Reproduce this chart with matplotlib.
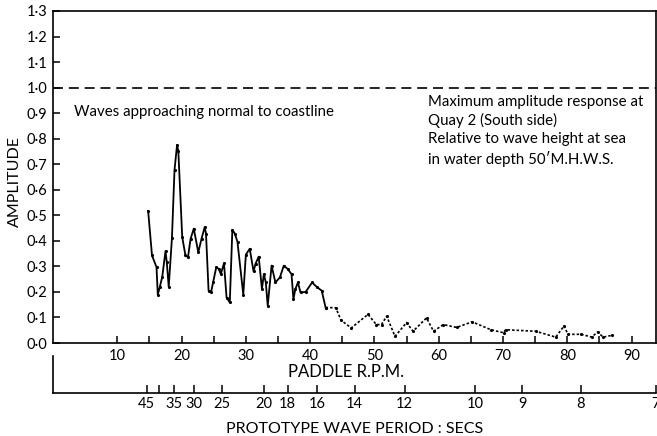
import numpy as np
import matplotlib
matplotlib.use("Agg")
import matplotlib.pyplot as plt

plt.rcParams["font.family"] = ["Lato", "DejaVu Sans"]

rpm = [14.8, 15.4, 16.1, 16.3, 16.6, 17.0, 17.5, 17.7, 18.0, 18.5, 18.9, 19.3, 19.5,
       20.1, 20.6, 21.0, 21.4, 21.9, 22.6, 23.1, 23.6, 23.8, 24.2, 24.6, 24.9, 25.4,
       25.8, 26.1, 26.6, 27.0, 27.5, 27.9, 28.3, 28.7, 29.6, 30.0, 30.6, 31.2, 31.5,
       32.0, 32.5, 32.8, 33.1, 33.4, 34.0, 34.6, 35.3, 35.9, 36.5, 37.1, 37.4, 37.7,
       38.1, 38.5, 39.3, 40.3, 41.1, 41.8, 42.4]
amp = [0.517, 0.343, 0.297, 0.189, 0.218, 0.26, 0.36, 0.316, 0.22, 0.41, 0.677, 0.776, 0.75,
       0.415, 0.343, 0.336, 0.408, 0.448, 0.355, 0.408, 0.454, 0.428, 0.205, 0.2, 0.237, 0.297,
       0.29, 0.27, 0.312, 0.178, 0.159, 0.443, 0.428, 0.395, 0.189, 0.346, 0.369, 0.28, 0.31,
       0.338, 0.211, 0.27, 0.237, 0.146, 0.303, 0.237, 0.257, 0.303, 0.29, 0.27, 0.172, 0.211,
       0.237, 0.198, 0.2, 0.237, 0.218, 0.205, 0.139]

rpm_tail = [42.4, 44.0, 44.8, 46.4, 49.0, 50.3, 51.1, 51.9, 53.2, 55.0, 56.0, 58.1, 59.2,
            60.7, 62.8, 65.2, 68.1, 70.1, 70.4, 75.1, 78.2, 79.5, 80.1, 82.2, 83.8, 84.7,
            85.6, 86.9]
amp_tail = [0.139, 0.138, 0.089, 0.059, 0.112, 0.072, 0.072, 0.105, 0.026, 0.08, 0.046, 0.098,
            0.046, 0.072, 0.061, 0.083, 0.052, 0.04, 0.052, 0.046, 0.023, 0.067, 0.034, 0.034,
            0.023, 0.043, 0.023, 0.03]

rpm_ticks = [10, 20, 30, 40, 50, 60, 70, 80, 90]
amp_labels = ["0·0", "0·1", "0·2", "0·3", "0·4", "0·5", "0·6", "0·7", "0·8", "0·9",
              "1·0", "1·1", "1·2", "1·3"]
periods = [45, 40, 35, 30, 25, 20, 18, 16, 14, 12, 10, 9, 8, 7]
period_labels = ["45", "", "35", "30", "25", "20", "18", "16", "14", "12", "10", "9", "8", "7"]
RPM_SECS = 657.0  # rpm x period is constant on the model

fig = plt.figure(figsize=(6.57, 4.36), dpi=100)
ax = fig.add_axes([53 / 657, 93 / 436, 603 / 657, 332 / 436])

ax.plot(rpm, amp, color="black", lw=1.3, marker=".", ms=2.5)
ax.plot(rpm_tail, amp_tail, color="black", lw=1.2, ls=(0, (1.5, 1.2)), marker=".", ms=2.5)
ax.axhline(1.0, color="black", lw=1.2, ls=(0, (6, 3.5)))

ax.set_xlim(0, 93.8)
ax.set_ylim(0, 1.3)
ax.set_xticks(rpm_ticks)
ax.set_xticks(np.arange(15, 95, 10), minor=True)
ax.set_yticks(np.arange(14) / 10)
ax.set_yticklabels(amp_labels)
ax.tick_params(axis="both", which="both", direction="in", length=5, width=1.1, labelsize=10.5)
ax.tick_params(axis="x", pad=4)
ax.tick_params(axis="y", pad=4)
for s in ax.spines.values():
    s.set_linewidth(1.2)

ax.set_ylabel("AMPLITUDE", fontsize=11.5)
ax.yaxis.set_label_coords(-0.052, 0.485)
ax.set_xlabel("PADDLE R.P.M.", fontsize=12)
ax.xaxis.set_label_coords(0.486, -0.064)

ax.text(3.3, 0.905, "Waves approaching normal to coastline", fontsize=10.8, va="center")
ax.text(58.4, 0.83,
        "Maximum amplitude response at\nQuay 2 (South side)\nRelative to wave height at sea\nin water depth 50\u2032M.H.W.S.",
        fontsize=10.8, va="center", linespacing=1.35)

# second scale: prototype wave period
ax2 = fig.add_axes([53 / 657, 43 / 436, 603 / 657, 37 / 436])
ax2.set_xlim(ax.get_xlim())
ax2.set_ylim(0, 1)
ax2.patch.set_alpha(0)
ax2.spines["top"].set_visible(False)
ax2.spines["right"].set_visible(False)
for s in ax2.spines.values():
    s.set_linewidth(1.2)
ax2.set_yticks([])
ax2.set_xticks([RPM_SECS / t for t in periods])
ax2.set_xticklabels(period_labels)
ax2.tick_params(axis="x", direction="in", length=6, width=1.1, labelsize=10.5, pad=3)
ax2.set_xlabel("PROTOTYPE WAVE PERIOD : SECS", fontsize=11.5, labelpad=8)

fig.savefig("out.png", dpi=100)
